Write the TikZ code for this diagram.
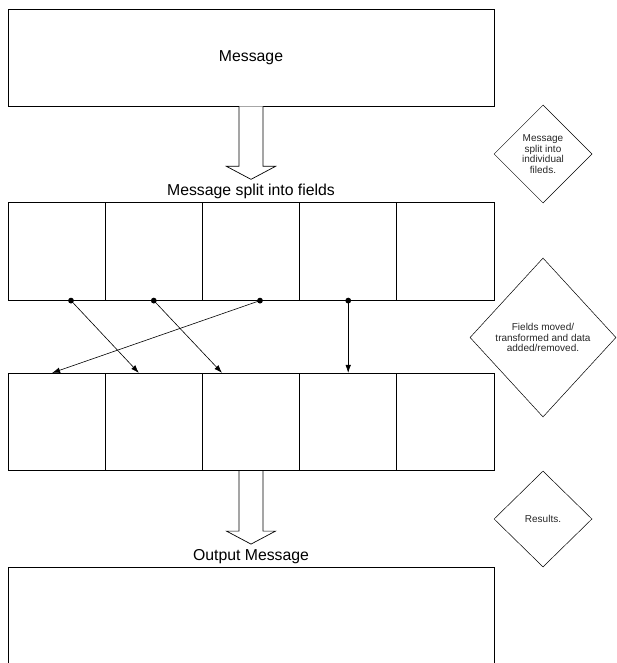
\documentclass[tikz,border=0pt]{standalone}
\usepackage{fontspec}
\setmainfont{Liberation Sans}
\usetikzlibrary{shapes.geometric,arrows.meta,calc}
\newcommand{\bigfont}{\fontsize{15.8}{18}\selectfont}
\newcommand{\notefont}{\fontsize{10}{10.7}\selectfont}

\begin{document}
\begin{tikzpicture}[x=1pt, y=-1pt,
    frame/.style={draw, line width=0.7pt, inner sep=0pt, minimum width=486pt, minimum height=97pt},
    field/.style={draw, line width=0.7pt, inner sep=0pt, minimum width=97.2pt, minimum height=97.5pt},
    note/.style={diamond, draw, line width=0.5pt, inner sep=0pt, align=center, font=\notefont, text=black!85},
    hollow/.style={draw, line width=0.7pt, fill=white, line join=miter},
    move/.style={draw, line width=0.6pt, -{Latex[length=8pt,width=5.5pt]}}]

  \useasboundingbox (0,0) rectangle (616,663);

  \newcommand\W{97.2}
  \newcommand\blockarrow[1]{\draw[hollow] ($(#1)+(-12,0)$) -- ++(0,60) -- ++(-12.5,0)
    -- ($(#1)+(0,73)$) -- ($(#1)+(24.5,60)$) -- ++(-12.5,0) -- ($(#1)+(12,0)$);}

  % input and output
  \node[frame, font=\bigfont] (msg) at (251, 57.5) {Message};
  \node[font=\bigfont, anchor=base, inner sep=0pt] (split) at (251, 195.5) {Message split into fields};
  \node[font=\bigfont, anchor=base, inner sep=0pt] (outlbl) at (251, 560) {Output Message};
  \node[frame] (out) at (251, 615.5) {};

  % the two rows of fields
  \foreach \i in {1,...,5} {
    \node[field] (a\i) at ({8+\W*(\i-0.5)}, 251.5) {};
    \node[field] (b\i) at ({8+\W*(\i-0.5)}, 422) {};
  }

  \blockarrow{msg.south} % message -> fields
  \blockarrow{b3.south}  % fields -> output

  % field moves
  \coordinate (d1) at ($(a1.south)+(14.4,0)$);
  \coordinate (d2) at (a2.south);
  \coordinate (d3) at ($(a3.south)+(9,0)$);
  \coordinate (d4) at (a4.south);
  \coordinate (t1) at ($(b2.north)+(-15,0)$);
  \coordinate (t2) at ($(b3.north)+(-29,0)$);
  \coordinate (t3) at ($(b1.north)+(-4.5,0)$);

  \foreach \d in {d1,d2,d3,d4} \fill (\d) circle (2.9pt);

  \draw[move] (d1) -- (t1); %% 1->2
  \draw[move] (d2) -- (t2); %% 2->3
  \draw[move] (d3) -- (t3); %% 3->1
  \draw[move] (d4) -- (b4.north); %% 4->4

  % notes on the right
  \node[note, minimum width=98pt, minimum height=98pt] (n1) at (543, 154) {Message\\split into\\individual\\fileds.};
  \node[note, minimum width=146pt, minimum height=159pt] (n2) at (543, 337.5) {Fields moved/\\transformed and data\\added/removed.};
  \node[note, minimum width=98pt, minimum height=96pt] (n3) at (543, 519) {Results.};
\end{tikzpicture}
\end{document}
